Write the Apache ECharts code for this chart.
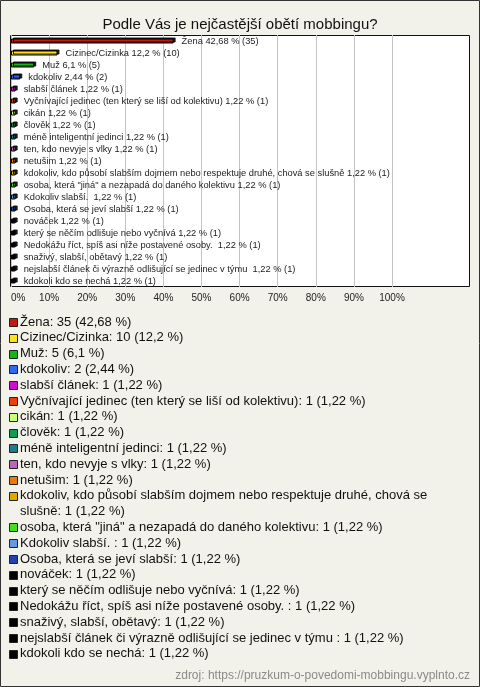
<!DOCTYPE html>
<html><head><meta charset="utf-8">
<script src="https://cdn.jsdelivr.net/npm/echarts@6/dist/echarts.min.js"></script>
<style>html,body{margin:0;padding:0;background:#f3f2ea}#c{width:480px;height:687px}</style>
</head><body><div id="c"></div>
<script>
const chartTitle = 'Podle Vás je nejčastější obětí mobbingu?';
const categories = [
  'Žena',
  'Cizinec/Cizinka',
  'Muž',
  'kdokoliv',
  'slabší článek',
  'Vyčnívající jedinec (ten který se liší od kolektivu)',
  'cikán',
  'člověk',
  'méně inteligentní jedinci',
  'ten, kdo nevyje s vlky',
  'netušim',
  'kdokoliv, kdo působí slabším dojmem nebo respektuje druhé, chová se slušně',
  'osoba, která "jiná" a nezapadá do daného kolektivu',
  'Kdokoliv slabší. ',
  'Osoba, která se jeví slabší',
  'nováček',
  'který se něčím odlišuje nebo vyčnívá',
  'Nedokážu říct, spíš asi níže postavené osoby. ',
  'snaživý, slabší, obětavý',
  'nejslabší článek či výrazně odlišující se jedinec v týmu ',
  'kdokoli kdo se nechá'
];
const counts = [35, 10, 5, 2, 1, 1, 1, 1, 1, 1, 1, 1, 1, 1, 1, 1, 1, 1, 1, 1, 1];
const percents = [42.68, 12.2, 6.1, 2.44, 1.22, 1.22, 1.22, 1.22, 1.22, 1.22, 1.22, 1.22, 1.22, 1.22, 1.22, 1.22, 1.22, 1.22, 1.22, 1.22, 1.22];
const colors = [
  '#c21a0e', '#ffe21a', '#19b319', '#3366ee', '#cc11cc', '#e6420f', '#ccff80',
  '#119955', '#1e7d8c', '#bb66bb', '#ee7711', '#ddaa00', '#44dd22', '#6699dd',
  '#2244aa', '#000000', '#000000', '#000000', '#000000', '#000000', '#000000'
];
const xTickMax = 100;
const xTickStep = 10;
const sourceText = 'zdroj: https://pruzkum-o-povedomi-mobbingu.vyplnto.cz';

const FONT = '"Liberation Sans", Arial, sans-serif';
const fmt = v => String(v).replace('.', ',');

// Legend layout (text only, positions computed by wrapping)
const legendFontSize = 13;
const legendX = 20;
const legendTop = 322;
const legendLine = 15.8;
const legendWidth = 452;
const ctx = document.createElement('canvas').getContext('2d');
ctx.font = legendFontSize + 'px ' + FONT;
function wrap(text) {
  const words = text.split(' ');
  const lines = [];
  let cur = '';
  for (const w of words) {
    const t = cur === '' ? w : cur + ' ' + w;
    if (ctx.measureText(t).width > legendWidth && cur !== '') { lines.push(cur); cur = w; }
    else cur = t;
  }
  lines.push(cur);
  return lines;
}
const graphics = [];
graphics.push({ type: 'rect', z: -5, silent: true,
  shape: { x: 10.5, y: 35.5, width: 459, height: 251 },
  style: { fill: '#ffffff', stroke: '#111', lineWidth: 1 } });
let line = 0;
categories.forEach((name, i) => {
  const y = legendTop + line * legendLine;
  graphics.push({ type: 'rect', silent: true,
    shape: { x: 9.5, y: Math.round(y - 4) + 0.5, width: 8, height: 8 },
    style: { fill: colors[i], stroke: '#222', lineWidth: 1 } });
  const lines = wrap(name + ': ' + counts[i] + ' (' + fmt(percents[i]) + ' %)');
  lines.forEach((ln, k) => {
    graphics.push({ type: 'text', silent: true, x: legendX, y: legendTop + (line + k) * legendLine,
      style: { text: ln, fill: '#111', font: legendFontSize + 'px ' + FONT, textVerticalAlign: 'middle', textAlign: 'left' } });
  });
  line += lines.length;
});
graphics.push({ type: 'text', silent: true, x: 470, y: 676,
  style: { text: sourceText, fill: '#8a8a8a', font: '12px ' + FONT, textAlign: 'right', textVerticalAlign: 'middle' } });
graphics.push({ type: 'rect', silent: true, z: 100,
  shape: { x: 0.5, y: 0.5, width: 479, height: 686 },
  style: { fill: 'none', stroke: '#333', lineWidth: 1 } });

const chart = echarts.init(document.getElementById('c'), null, { renderer: 'canvas' });
chart.setOption({
  backgroundColor: '#f3f2ea',
  animation: false,
  title: { text: chartTitle, left: 'center', top: 12,
    textStyle: { fontSize: 15, fontWeight: 'normal', color: '#111', fontFamily: FONT } },
  grid: { left: 11, right: 88, top: 35, bottom: 400 },
  xAxis: {
    type: 'value', min: 0, max: xTickMax, interval: xTickStep,
    axisLine: { show: false }, axisTick: { show: false },
    splitLine: { show: true, lineStyle: { color: '#c4c4c4', width: 1 } },
    axisLabel: { formatter: '{value}%', fontSize: 10, color: '#222', fontFamily: FONT, margin: 6, alignMinLabel: 'left' }
  },
  yAxis: { type: 'category', inverse: true, data: categories, show: false },
  graphic: { elements: graphics },
  series: [{
    type: 'bar',
    barWidth: 5,
    data: percents.map((v, i) => ({ value: v, itemStyle: { color: colors[i] } })),
    itemStyle: { borderColor: '#000', borderWidth: 1, shadowColor: 'rgba(0,0,0,0.85)', shadowOffsetX: 2, shadowOffsetY: -1, shadowBlur: 0 },
    label: {
      show: true, position: 'right', distance: 8,
      fontSize: 9.3, color: '#222', fontFamily: FONT,
      formatter: p => categories[p.dataIndex] + ' ' + fmt(percents[p.dataIndex]) + ' % (' + counts[p.dataIndex] + ')'
    }
  }]
});
</script></body></html>
